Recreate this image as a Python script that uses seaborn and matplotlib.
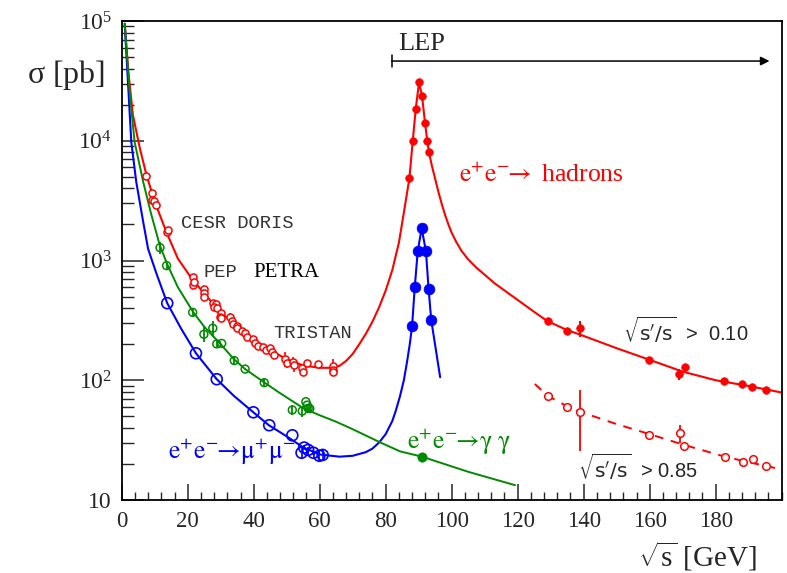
import numpy as np
import pandas as pd
import matplotlib
matplotlib.use("Agg")
import matplotlib.pyplot as plt
from matplotlib.ticker import FixedLocator, MultipleLocator, LogLocator, NullFormatter
import seaborn as sns

# ---------------- data ----------------
# e+e- -> hadrons, low-energy (open circles)
had_lo_x = [7.3, 9.1, 9.1, 9.8, 10.4, 13.6, 14.1, 21.7, 21.7, 22.0, 24.9, 24.9, 25.0, 27.6, 28.6,
            27.9, 28.9, 30.2, 29.7, 30.2, 32.8, 33.3, 33.8, 34.8, 35.0, 36.4, 37.4, 38.1, 39.9,
            40.4, 41.4, 42.9, 43.6, 44.9, 45.5, 46.0, 49.5, 50.0, 52.0, 52.3, 54.5, 54.8, 56.2,
            59.6, 63.9, 64.1, 63.9]
had_lo_y = [5100, 3680, 3200, 3140, 2900, 1720, 1800, 733, 624, 665, 575, 532, 493, 444, 431,
            406, 399, 366, 340, 329, 340, 314, 295, 284, 271, 258, 247, 231, 220,
            204, 194, 191, 179, 185, 173, 162, 150, 138, 143, 134, 126, 118, 138,
            137, 132, 122, 117]
had_lo_rel = [0.08, 0.05, 0.05, 0.05, 0.05, 0.06, 0.05, 0.06, 0.05, 0.05, 0.07, 0.06, 0.05, 0.06, 0.05,
              0.05, 0.05, 0.06, 0.05, 0.05, 0.07, 0.05, 0.05, 0.06, 0.05, 0.06, 0.05, 0.06, 0.06,
              0.05, 0.06, 0.06, 0.05, 0.05, 0.06, 0.05, 0.14, 0.08, 0.10, 0.12, 0.07, 0.08, 0.06,
              0.05, 0.14, 0.08, 0.06]
# e+e- -> hadrons, LEP (filled)
had_z_x = [87.2, 88.2, 89.1, 90.1, 91.0, 91.9, 92.6, 93.1]
had_z_y = [4900, 10000, 18400, 30800, 23800, 14200, 10000, 8050]
had_hi_x = [129.1, 135.0, 138.9, 159.8, 169.0, 170.7, 182.6, 188.1, 190.9, 195.1]
had_hi_y = [314, 259, 272, 148, 112, 128, 98.6, 93, 88.4, 83]
had_hi_err = [0, 0, 42, 0, 12, 0, 0, 0, 0, 0]
# sqrt(s'/s) > 0.85 (open, dashed)
exc_x = [129.1, 134.8, 138.9, 159.8, 169.2, 170.5, 182.8, 188.4, 191.4, 195.2]
exc_y = [73.8, 59.4, 54, 34.9, 36, 28.3, 22.7, 20.9, 21.9, 19.2]
exc_err = [0, 0, 28.5, 0, 6, 0, 0, 0, 0, 0]
# e+e- -> mu+ mu-
mu_lo_x = [13.8, 22.5, 28.8, 39.9, 44.7, 51.7, 54.5, 55.3, 56.5, 58.1, 59.9, 60.9]
mu_lo_y = [440, 168, 102, 54, 42.1, 34.7, 24.8, 27.4, 26.2, 24.8, 23.4, 23.8]
mu_lo_rel = [0, 0, 0, 0, 0, 0, 0.1, 0.05, 0.05, 0.05, 0.1, 0.1]
mu_z_x = [88.0, 88.8, 89.7, 90.9, 92.2, 93.0, 93.8]
mu_z_y = [284, 597, 1190, 1860, 1190, 578, 318]
# e+e- -> gamma gamma
gg_x = [11.6, 13.6, 21.5, 24.9, 27.6, 28.8, 30.3, 34.1, 37.4, 43.2, 51.7, 55.8, 56.2, 54.7, 56.5, 57.0]
gg_y = [1280, 906, 369, 242, 272, 201, 203, 146, 124, 95.5, 56.5, 66.2, 62, 55.3, 58.3, 58]
gg_rel = [0.12, 0.06, 0.07, 0.14, 0.15, 0.06, 0.0, 0.08, 0.0, 0.08, 0.1, 0.0, 0.0, 0.1, 0.06, 0.08]
gg_lep_x = [91.0]
gg_lep_y = [23]

# theory curves
had_cx = [1.0, 2.0, 3.4, 5.5, 7.5, 10, 13.5, 17, 21, 25, 30, 35, 40, 45, 50, 55, 60, 64, 66, 68,
          70, 72, 74, 76, 78, 80, 82, 84, 85.5, 87.2, 88.2, 89.1, 90.1, 91.0, 91.9, 92.6, 93.1,
          94, 95, 96, 97, 98, 99, 100, 101.5, 103, 105, 107.5, 110, 113, 116, 120, 125, 129,
          135, 139, 150, 160, 170, 180, 190, 200]
had_cy = [90000, 38000, 16400, 8650, 5180, 3100, 1740, 1040, 720, 530, 370, 280, 220, 178, 150, 133,
          127, 127, 132, 145, 166, 200, 245, 309, 407, 562, 832, 1410, 2510, 4900, 10000, 18400,
          30800, 23800, 14200, 10000, 8050, 6170, 4790, 3720, 2950, 2400, 2000, 1700, 1410, 1200,
          1020, 870, 760, 645, 562, 468, 372, 312, 262, 240, 185, 148, 118, 100, 89.5, 79]
mu_cx = [0.9, 1.9, 2.9, 4.4, 6.5, 8.0, 10.5, 13.8, 18, 22.5, 28.8, 34, 39.9, 44.5, 50, 55, 60, 66,
         70, 74, 76, 78, 80, 82, 83, 84.3, 85.5, 86.4, 87.3, 88.0, 88.8, 89.7, 90.9, 92.2, 93.0,
         93.8, 96.5]
mu_cy = [95000, 31100, 9800, 4550, 2110, 1250, 782, 440, 270, 168, 102, 74, 54, 42.3, 34, 27.5, 24,
         23, 23.4, 25.1, 26.9, 30.2, 35.5, 45.7, 55, 73, 100, 139, 200, 284, 597, 1190, 1860, 1190,
         578, 318, 106]
gg_cx = [0.9, 2.4, 3.9, 6.5, 9.0, 11.5, 13.8, 17, 21.6, 25, 30, 34, 37.4, 43.3, 48, 55, 60, 65, 70,
         78.3, 84.3, 91, 105, 119.2]
gg_cy = [95000, 25700, 9800, 4550, 2400, 1350, 930, 600, 373, 280, 200, 150, 124, 95.5, 78, 58.5,
         51, 45, 39, 30.3, 25.5, 23, 17.2, 13.3]
exc_cx = [125.2, 129.1, 134.8, 138.9, 150, 159.8, 170.5, 182.8, 190, 198.4]
exc_cy = [93, 74, 61, 54.6, 43, 35.6, 28.8, 23, 20.7, 18.4]

x_ticks = [0, 20, 40, 60, 80, 100, 120, 140, 160, 180]
y_ticks = [10, 100, 1000, 10000, 100000]
y_tick_labels = ["10", r"$10^{2}$", r"$10^{3}$", r"$10^{4}$", r"$10^{5}$"]

# ---------------- style ----------------
sns.set_style("ticks")
plt.rcParams["font.family"] = ["Liberation Serif", "DejaVu Serif"]
plt.rcParams["mathtext.fontset"] = "custom"
plt.rcParams["mathtext.rm"] = "Liberation Serif"
plt.rcParams["mathtext.it"] = "Liberation Serif"
plt.rcParams["mathtext.bf"] = "Liberation Serif:bold"

RED = "#ff0000"
BLUE = "#0000ff"
GREEN = "#008a00"

fig = plt.figure(figsize=(7.87, 5.73), dpi=100)
ax = fig.add_axes([121.7 / 787, 73 / 573, 660 / 787, 479 / 573])
ax.set_yscale("log")

# curves
sns.lineplot(x=had_cx, y=had_cy, sort=False, estimator=None, color=RED, lw=1.5, ax=ax)
sns.lineplot(x=mu_cx, y=mu_cy, sort=False, estimator=None, color=BLUE, lw=1.5, ax=ax)
sns.lineplot(x=gg_cx, y=gg_cy, sort=False, estimator=None, color=GREEN, lw=1.4, ax=ax)
ax.plot(exc_cx, exc_cy, color=RED, lw=1.4, ls=(0, (4.5, 4)))

# error bars
ax.errorbar(had_lo_x, had_lo_y, yerr=np.array(had_lo_y) * np.array(had_lo_rel), fmt="none",
            ecolor=RED, elinewidth=1.2, capsize=0)
ax.errorbar(had_hi_x, had_hi_y, yerr=had_hi_err, fmt="none", ecolor=RED, elinewidth=1.5, capsize=0)
ax.errorbar(exc_x, exc_y, yerr=exc_err, fmt="none", ecolor=RED, elinewidth=1.3, capsize=0)
ax.errorbar(gg_x, gg_y, yerr=np.array(gg_y) * np.array(gg_rel), fmt="none", ecolor=GREEN,
            elinewidth=1.3, capsize=0)
ax.errorbar(mu_lo_x, mu_lo_y, yerr=np.array(mu_lo_y) * np.array(mu_lo_rel), fmt="none",
            ecolor=BLUE, elinewidth=1.2, capsize=0)

# markers
sns.scatterplot(x=had_lo_x, y=had_lo_y, ax=ax, s=26, facecolors="white", edgecolor=RED, linewidth=1.1, zorder=3)
sns.scatterplot(x=had_z_x, y=had_z_y, ax=ax, s=30, color=RED, edgecolor=RED, linewidth=0.5, zorder=3)
sns.scatterplot(x=had_hi_x, y=had_hi_y, ax=ax, s=30, color=RED, edgecolor=RED, linewidth=0.5, zorder=3)
sns.scatterplot(x=exc_x, y=exc_y, ax=ax, s=30, facecolors="white", edgecolor=RED, linewidth=1.1, zorder=3)
sns.scatterplot(x=mu_lo_x, y=mu_lo_y, ax=ax, s=62, facecolors="none", edgecolor=BLUE, linewidth=1.2, zorder=3)
sns.scatterplot(x=mu_z_x, y=mu_z_y, ax=ax, s=60, color=BLUE, edgecolor=BLUE, linewidth=0.5, zorder=3)
sns.scatterplot(x=gg_x, y=gg_y, ax=ax, s=32, facecolors="none", edgecolor=GREEN, linewidth=1.1, zorder=3)
sns.scatterplot(x=gg_lep_x, y=gg_lep_y, ax=ax, s=45, color=GREEN, edgecolor=GREEN, linewidth=0.5, zorder=3)

# axes
ax.set_xlim(0, 200)
ax.set_ylim(10, 1e5)
ax.xaxis.set_major_locator(FixedLocator(x_ticks))
ax.xaxis.set_minor_locator(MultipleLocator(4))
ax.set_xticklabels([str(t) for t in x_ticks])
ax.yaxis.set_major_locator(FixedLocator(y_ticks))
ax.set_yticklabels(y_tick_labels)
ax.yaxis.set_minor_locator(LogLocator(base=10, subs=np.arange(2, 10)))
ax.yaxis.set_minor_formatter(NullFormatter())
ax.tick_params(axis="x", which="major", direction="in", length=11.5, width=1.1, labelsize=16.5, pad=8,
               top=False)
ax.tick_params(axis="x", which="minor", direction="in", length=5.8, width=1.0, top=False)
ax.tick_params(axis="y", which="major", direction="in", length=15.5, width=1.1, labelsize=17, pad=7,
               right=False)
ax.tick_params(axis="y", which="minor", direction="in", length=8.5, width=1.0, right=False)
for side in ["left", "bottom", "top", "right"]:
    ax.spines[side].set_visible(True)
    ax.spines[side].set_color("black")
    ax.spines[side].set_linewidth(1.3)
ax.set_xlabel("")
ax.set_ylabel("")

# titles
fig.text(27 / 787, 1 - 75 / 573, r"$\sigma$ [pb]", fontsize=23, ha="left", va="center")
fig.text(638 / 787, 1 - 556 / 573, r"$\sqrt{\mathrm{s}}$ [GeV]", fontsize=21, ha="left", va="center")

# LEP arrow
ax.annotate("", xy=(196.3, 46300), xytext=(81.8, 46300),
            arrowprops=dict(arrowstyle="-|>", color="black", lw=1.1, mutation_scale=13,
                            shrinkA=0, shrinkB=0))
ax.plot([81.8, 81.8], [41300, 52000], color="black", lw=1.1)
ax.text(83.7, 64300, "LEP", fontsize=19, ha="left", va="center")

# labels (STIX math: Times-like with a full-width arrow; upright Greek via rm font)
ax.text(102.2, 5180, r"$\mathrm{e}^{+}\mathrm{e}^{-}\!\!\rightarrow$ hadrons", color=RED, fontsize=18.5,
        ha="left", va="center", math_fontfamily="stix")
ax.text(14.0, 25.2, "$\\mathrm{e}^{+}\\mathrm{e}^{-}\\!\\!\\rightarrow\\!\\mathrm{μ}^{+}\\mathrm{μ}^{-}$",
        color=BLUE, fontsize=18.5, ha="left", va="center", math_fontfamily="stix")
ax.text(86.5, 30.5, "$\\mathrm{e}^{+}\\mathrm{e}^{-}\\!\\!\\rightarrow\\!\\mathrm{γ}\\;\\mathrm{γ}$",
        color=GREEN, fontsize=18.5, ha="left", va="center", math_fontfamily="stix")
mono = ["Liberation Mono", "DejaVu Sans Mono"]
ax.text(18.0, 2040, "CESR DORIS", family=mono, color="#333333", fontsize=13.5, ha="left", va="center")
ax.text(24.9, 791, "PEP", family=mono, color="#333333", fontsize=13.5, ha="left", va="center")
ax.text(39.8, 791, "PETRA", color="black", fontsize=15, ha="left", va="center")
ax.text(45.9, 247, "TRISTAN", family=mono, color="#333333", fontsize=13.5, ha="left", va="center")
sans = ["Liberation Sans", "DejaVu Sans"]
ax.text(151.9, 263, r"$\sqrt{\mathrm{s'/s}}$  >  0.10", family=sans, math_fontfamily="dejavusans",
        fontsize=14.5, ha="left", va="center")
ax.text(138.2, 18.9, r"$\sqrt{\mathrm{s'/s}}$  > 0.85", family=sans, math_fontfamily="dejavusans",
        fontsize=14.5, ha="left", va="center")

fig.savefig("out.png", dpi=100)
